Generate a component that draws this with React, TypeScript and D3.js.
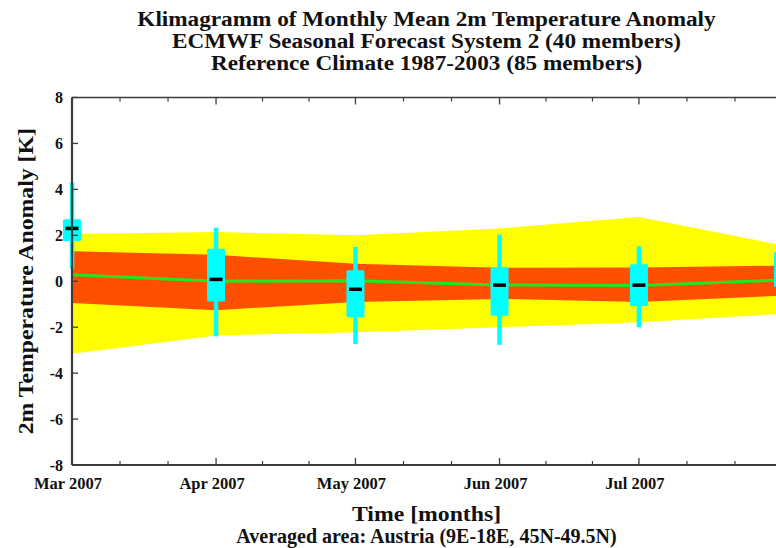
import React, { useEffect, useRef } from "react";
import * as d3 from "d3";

// month starts the values belong to (last one is Aug, cut off at the right edge)
const monthDates = ["2007-03-01", "2007-04-01", "2007-05-01", "2007-06-01", "2007-07-01", "2007-08-01"];
const tickLabels = ["Mar 2007", "Apr 2007", "May 2007", "Jun 2007", "Jul 2007"];

// reference climate bands
const climOuterHi = [2.06, 2.14, 2.0, 2.3, 2.8, 1.55];
const climOuterLo = [-3.16, -2.36, -2.22, -2.0, -1.78, -1.42];
const climInnerHi = [1.31, 1.15, 0.76, 0.59, 0.6, 0.68];
const climInnerLo = [-0.95, -1.26, -0.9, -0.77, -0.9, -0.63];
const climMedian = [0.28, 0.0, 0.02, -0.16, -0.18, 0.05];

// forecast ensemble boxes
const fcMax = [4.3, 2.33, 1.5, 2.03, 1.52, 2.2];
const fcQ3 = [2.7, 1.42, 0.48, 0.61, 0.74, 1.27];
const fcMedian = [2.3, 0.08, -0.35, -0.17, -0.17, 0.77];
const fcQ1 = [1.75, -0.88, -1.57, -1.5, -1.08, -0.25];
const fcMin = [0.55, -2.4, -2.73, -2.77, -2.0, -1.2];

const yTicks = [-8, -6, -4, -2, 0, 2, 4, 6, 8];

const titles = [
  "Klimagramm of Monthly Mean 2m Temperature Anomaly",
  "ECMWF Seasonal Forecast System 2 (40 members)",
  "Reference Climate 1987-2003 (85 members)",
];

const W = 776, H = 548;
const margin = { left: 72, right: 783, top: 97.5, bottom: 465 };
const FONT = "'Liberation Serif', 'Times New Roman', serif";
const AXIS = "#3c3c3c";
const STRETCH = 1.08; // original font is a wider Palatino-like face

export default function App() {
  const ref = useRef<SVGSVGElement>(null);

  useEffect(() => {
    const svg = d3.select(ref.current);
    svg.selectAll("*").remove();

    const dates = monthDates.map((d) => d3.timeParse("%Y-%m-%d")(d) as Date);
    const x = d3.scaleTime().domain([dates[0], dates[dates.length - 1]]).range([margin.left, margin.right]);
    const y = d3.scaleLinear().domain([-8, 8]).range([margin.bottom, margin.top]);

    const idx = d3.range(dates.length);
    const g = svg.append("g");

    // climate bands
    const band = (lo: number[], hi: number[]) =>
      d3.area<number>().x((i) => x(dates[i])).y0((i) => y(lo[i])).y1((i) => y(hi[i]))(idx);
    g.append("path").attr("d", band(climOuterLo, climOuterHi)).attr("fill", "#ffff00");
    g.append("path").attr("d", band(climInnerLo, climInnerHi)).attr("fill", "#ff5000");
    g.append("path")
      .attr("d", d3.line<number>().x((i) => x(dates[i])).y((i) => y(climMedian[i]))(idx))
      .attr("fill", "none")
      .attr("stroke", "#22e622")
      .attr("stroke-width", 3);

    // forecast boxes
    const boxW = 18, whiskW = 4.5, medW = 13;
    const boxes = g.selectAll(".box").data(idx).join("g").attr("class", "box");
    boxes.append("rect")
      .attr("x", (i) => x(dates[i]) - whiskW / 2)
      .attr("width", whiskW)
      .attr("y", (i) => y(fcMax[i]))
      .attr("height", (i) => y(fcMin[i]) - y(fcMax[i]))
      .attr("fill", "#00ffff");
    boxes.append("rect")
      .attr("x", (i) => x(dates[i]) - boxW / 2)
      .attr("width", boxW)
      .attr("y", (i) => y(fcQ3[i]))
      .attr("height", (i) => y(fcQ1[i]) - y(fcQ3[i]))
      .attr("rx", 1.5)
      .attr("fill", "#00ffff");
    boxes.append("rect")
      .attr("x", (i) => x(dates[i]) - medW / 2)
      .attr("width", medW)
      .attr("y", (i) => y(fcMedian[i]) - 1.75)
      .attr("height", 3.5)
      .attr("fill", "#000");

    // axes frame
    const ax = svg.append("g").attr("stroke", AXIS);
    ax.append("line").attr("x1", margin.left).attr("x2", margin.left).attr("y1", margin.top).attr("y2", margin.bottom).attr("stroke-width", 2.2);
    ax.append("line").attr("x1", margin.left).attr("x2", margin.right).attr("y1", margin.bottom).attr("y2", margin.bottom).attr("stroke-width", 2.2);
    ax.append("line").attr("x1", margin.left).attr("x2", margin.right).attr("y1", margin.top).attr("y2", margin.top).attr("stroke-width", 1.5);
    ax.append("line").attr("x1", margin.right).attr("x2", margin.right).attr("y1", margin.top).attr("y2", margin.bottom).attr("stroke-width", 1.5);

    // y ticks (inward, both sides)
    yTicks.forEach((v) => {
      ax.append("line").attr("x1", margin.left).attr("x2", margin.left + 6).attr("y1", y(v)).attr("y2", y(v)).attr("stroke-width", 1.3);
      ax.append("line").attr("x1", margin.right - 7).attr("x2", margin.right).attr("y1", y(v)).attr("y2", y(v)).attr("stroke-width", 1.3);
    });
    svg.append("g").selectAll("text").data(yTicks).join("text")
      .attr("x", 63)
      .attr("y", (v) => y(v))
      .attr("dy", "0.35em")
      .attr("text-anchor", "end")
      .attr("font-family", FONT)
      .attr("font-weight", "bold")
      .attr("font-size", 16)
      .attr("fill", "#111")
      .text((v) => v);

    // x ticks: month starts, plus thirds of each month
    dates.forEach((d, i) => {
      const px = x(d);
      ax.append("line").attr("x1", px).attr("x2", px).attr("y1", margin.bottom).attr("y2", margin.bottom - 7).attr("stroke-width", 1.3);
      ax.append("line").attr("x1", px).attr("x2", px).attr("y1", margin.top).attr("y2", margin.top + 7).attr("stroke-width", 1.3);
      if (i < dates.length - 1) {
        const next = x(dates[i + 1]);
        [1 / 3, 2 / 3].forEach((f) => {
          const mx = px + (next - px) * f;
          ax.append("line").attr("x1", mx).attr("x2", mx).attr("y1", margin.bottom).attr("y2", margin.bottom - 4).attr("stroke-width", 1.2);
          ax.append("line").attr("x1", mx).attr("x2", mx).attr("y1", margin.top).attr("y2", margin.top + 4).attr("stroke-width", 1.2);
        });
      }
    });
    svg.append("g").selectAll("text").data(tickLabels).join("text")
      .attr("x", (_, i) => x(dates[i]) - 4)
      .attr("y", 489)
      .attr("text-anchor", "middle")
      .attr("font-family", FONT)
      .attr("font-weight", "bold")
      .attr("font-size", 16.5)
      .attr("fill", "#111")
      .text((t) => t);

    // titles and axis labels (stretched a little sideways)
    const cx = (margin.left + margin.right) / 2 - 1;
    const label = (t: string, px: number, py: number, size: number, rotate = 0, sx = STRETCH) =>
      svg.append("text")
        .attr("transform", `translate(${px}, ${py}) rotate(${rotate}) scale(${sx}, 1)`)
        .attr("text-anchor", "middle")
        .attr("font-family", FONT)
        .attr("font-weight", "bold")
        .attr("font-size", size)
        .attr("fill", "#111")
        .text(t);

    titles.forEach((t, i) => label(t, cx, 26 + i * 22, 21.5));
    label("2m Temperature Anomaly [K]", 33, y(0), 22, -90);
    label("Time [months]", cx, 521, 22);
    label("Averaged area: Austria (9E-18E, 45N-49.5N)", cx, 543, 20, 0, 1);
  }, []);

  return (
    <svg
      ref={ref}
      width={W}
      height={H}
      style={{ position: "absolute", left: 0, top: 0, background: "#fff" }}
    />
  );
}
